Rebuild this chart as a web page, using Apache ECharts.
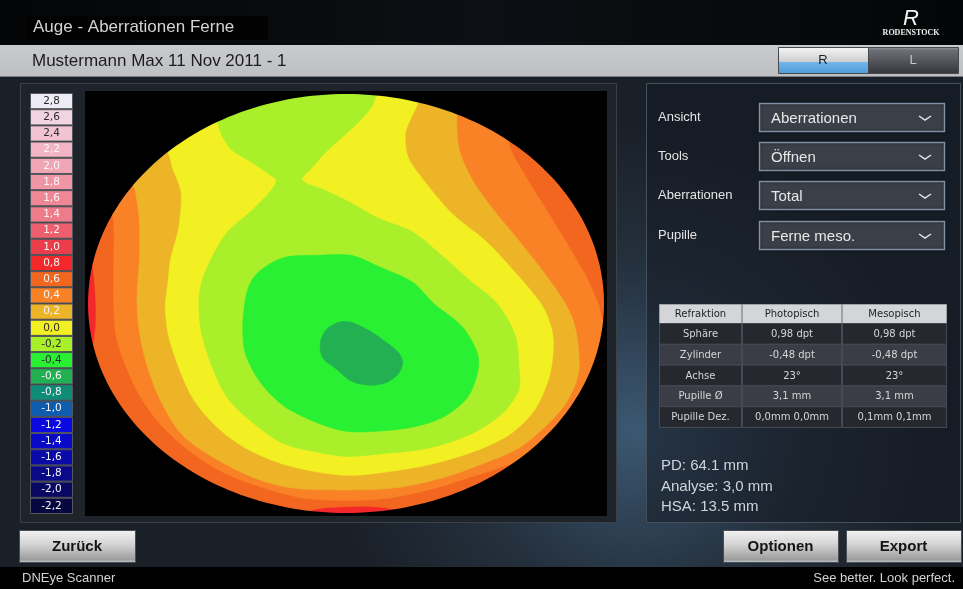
<!DOCTYPE html>
<html>
<head>
<meta charset="utf-8">
<title>Auge - Aberrationen Ferne</title>
<script src="https://cdn.jsdelivr.net/npm/echarts@6.0.0/dist/echarts.min.js"></script>
<style>
html,body{margin:0;padding:0;background:#000;overflow:hidden}
#chart{width:963px;height:589px}
</style>
</head>
<body>
<div id="chart"></div>
<script>
// Aberration scale (dpt), top to bottom of the legend
const scaleSteps = [2.8, 2.6, 2.4, 2.2, 2.0, 1.8, 1.6, 1.4, 1.2, 1.0, 0.8, 0.6, 0.4,
                    0.2, 0.0, -0.2, -0.4, -0.6, -0.8, -1.0, -1.2, -1.4, -1.6, -1.8, -2.0, -2.2];
const scaleLabels = ['2,8', '2,6', '2,4', '2,2', '2,0', '1,8', '1,6', '1,4', '1,2', '1,0', '0,8', '0,6', '0,4',
                     '0,2', '0,0', '-0,2', '-0,4', '-0,6', '-0,8', '-1,0', '-1,2', '-1,4', '-1,6', '-1,8', '-2,0', '-2,2'];

// Iso-lines of the aberration map in pupil coordinates (-100..100 on both axes, y up).
// Each ring encloses the area at or below its level; where a band reaches the pupil edge
// the ring runs outside the pupil.
const iso07 = [[-115, 112], [115, 112], [115, -112], [25, -112], [22, -100], [11, -97], [0, -97], [-11, -98],
               [-17, -101], [-20, -112], [-115, -112], [-115, -35], [-100, -30], [-98, -20], [-97, -10],
               [-97, 2], [-98, 16], [-100, 28], [-115, 32]];
const iso05 = [[-91, 42], [-90, 35], [-90, 22], [-90, -1], [-89, -16], [-85, -31], [-79, -46], [-71, -59],
               [-60, -71], [-47, -81], [-32, -88], [-16, -93], [0, -94], [16, -93], [32, -89], [48, -83],
               [56, -80], [64, -77], [80, -82], [115, -25], [115, -6], [100, -8], [98, -1], [93, 13],
               [85, 30], [77, 46], [69, 62], [63, 78], [70, 95], [0, 125], [-85, 100], [-110, 45]];
const iso03 = [[-83, 57], [-81, 49], [-80, 38], [-80, 22], [-81, 2], [-80, -14], [-77, -30], [-72, -46],
               [-64, -62], [-52, -73], [-36, -83], [-21, -88], [0, -89], [19, -88], [38, -83], [54, -76],
               [67, -69], [77, -59], [85, -48], [90, -34], [90, -20], [88, -8], [84, 2], [76, 16], [67, 30],
               [57, 45], [49, 59], [44, 73], [43, 89], [46, 108], [-30, 125], [-95, 75], [-92, 60]];
const iso01 = [[-69, 72], [-78, 88], [-72, 120], [25, 120], [30, 108], [28, 96], [25, 88], [23, 81], [24, 70],
               [30, 59], [41, 43], [54, 30], [64, 17], [76, -1], [80, -14], [80, -27], [78, -38], [73, -51],
               [64, -62], [51, -70], [32, -77], [12, -81], [0, -82], [-13, -80], [-26, -76], [-39, -69],
               [-50, -59], [-59, -46], [-65, -30], [-69, -14], [-70, -1], [-69, 10], [-68, 21], [-65, 35],
               [-64, 45], [-64, 54], [-67, 64]];
const isoM01 = [[-57, -1], [-56, 10], [-52, 22], [-46, 34], [-36, 45], [-29, 54], [-27, 59], [-29, 61],
                [-36, 67], [-44, 73], [-48, 80], [-50, 87], [-55, 105], [-45, 118], [15, 118], [15, 106],
                [12, 100], [10, 94], [6, 88], [0, 81], [-8, 72], [-13, 65], [-17, 59], [-8, 54], [2, 48],
                [12, 41], [26, 34], [38, 22], [49, 10], [57, 2], [62, -6], [66, -17], [67, -30], [67, -41],
                [61, -52], [49, -62], [32, -69], [12, -72], [0, -73], [-11, -71], [-24, -67], [-36, -57],
                [-46, -45], [-52, -30], [-56, -14]];
const isoM03 = [[-39, 2], [-37, 10], [-33, 16], [-24, 22], [-11, 23], [2, 23], [12, 18], [26, 10], [34, 0],
                [45, -11], [51, -24], [51, -33], [47, -45], [38, -54], [26, -59], [12, -61], [0, -61],
                [-11, -57], [-24, -49], [-33, -38], [-39, -24], [-40, -11]];
const isoM05 = [[-10, -19], [-8, -13], [-3, -9], [2, -9], [9, -13], [15, -18], [20, -23], [22, -28],
                [20, -34], [15, -38], [9, -39], [2, -37], [-4, -31], [-9, -26]];

// Scale step that fills the pupil, and the step that fills each ring
const pupilStep = 0.8;
const isoRings = [iso07, iso05, iso03, iso01, isoM01, isoM03, isoM05];
const ringSteps = [0.6, 0.4, 0.2, 0.0, -0.2, -0.4, -0.6];

// Refraction table and measurement notes
const tableHead = ['Refraktion', 'Photopisch', 'Mesopisch'];
const tableRows = [
  ['Sphäre', '0,98 dpt', '0,98 dpt'],
  ['Zylinder', '-0,48 dpt', '-0,48 dpt'],
  ['Achse', '23°', '23°'],
  ['Pupille Ø', '3,1 mm', '3,1 mm'],
  ['Pupille Dez.', '0,0mm 0,0mm', '0,1mm 0,1mm']
];
const selectors = [['Ansicht', 'Aberrationen'], ['Tools', 'Öffnen'], ['Aberrationen', 'Total'], ['Pupille', 'Ferne meso.']];
const notes = ['PD: 64.1 mm', 'Analyse: 3,0 mm', 'HSA: 13.5 mm'];

// ---- styling ----
const scaleColors = ['#ecebf6', '#f2d4e1', '#f2c4d3', '#f3b5c5', '#f1a6b5', '#f095a3', '#ee8796', '#ee7b89',
                     '#ee5f6d', '#ec3d4b', '#f4282a', '#f2661f', '#f98226', '#edb428', '#f2f023', '#aaf02a',
                     '#2af033', '#22b052', '#0e8c78', '#0d5cad', '#0a0ae0', '#0909c8', '#0a0aa8', '#0a0a88',
                     '#080862', '#060640'];
const darkLabelSteps = [2.8, 2.6, 2.4, 0.0, -0.2, -0.4];
const colorOf = v => scaleColors[scaleSteps.findIndex(s => Math.abs(s - v) < 1e-9)];

const SANS = '"Liberation Sans", Arial, sans-serif';
const VERD = '"DejaVu Sans", Verdana, sans-serif';

const g = [];
function box(x, y, w, h, style, z) {
  g.push({ type: 'rect', silent: true, z: z || 0, shape: { x, y, width: w, height: h }, style });
}
function label(x, y, str, font, fill, align, z) {
  g.push({ type: 'text', silent: true, z: z || 10, x, y,
    style: { text: str, font, fill, align: align || 'left', verticalAlign: 'middle',
             textAlign: align || 'left', textVerticalAlign: 'middle' } });
}
const vgrad = stops => ({ type: 'linear', x: 0, y: 0, x2: 0, y2: 1,
  colorStops: stops.map(s => ({ offset: s[0], color: s[1] })) });

// window background with a soft blue glow
box(0, 77, 963, 490, { fill: { type: 'radial', x: 0.66, y: 0.72, r: 0.62,
  colorStops: [{ offset: 0, color: '#3c5872' }, { offset: 0.55, color: '#24303d' }, { offset: 1, color: '#1a2028' }] } });

// header
box(0, 0, 963, 45, { fill: { type: 'linear', x: 0, y: 0, x2: 1, y2: 0,
  colorStops: [{ offset: 0, color: '#040506' }, { offset: 0.5, color: '#0c1014' }, { offset: 1, color: '#040506' }] } });
box(27, 16, 241, 24, { fill: '#020202' }, 1);
label(33, 27, 'Auge - Aberrationen Ferne', '17px ' + SANS, '#d4d4d4');
label(911, 19, 'R', 'italic 22px ' + SANS, '#f2f2f2', 'center');
label(911, 33, 'RODENSTOCK', 'bold 8px "Liberation Serif", "DejaVu Serif", serif', '#f2f2f2', 'center');

// patient bar with eye switch
box(0, 45, 963, 32, { fill: vgrad([[0, '#c9cacd'], [1, '#bebfc2']]) });
box(0, 76, 963, 1, { fill: '#7d8086' }, 1);
label(32, 61, 'Mustermann Max 11 Nov 2011 - 1', '17px ' + SANS, '#1c1c1c');
box(778.5, 47.5, 90, 26, { fill: vgrad([[0, '#f6f6f6'], [0.55, '#cdced1'], [0.56, '#72b6ea'], [1, '#4c9bd8']]),
  stroke: '#45484d', lineWidth: 1 }, 1);
box(868.5, 47.5, 90, 26, { fill: vgrad([[0, '#9a9ca1'], [0.12, '#6c6f75'], [1, '#34363b']]),
  stroke: '#45484d', lineWidth: 1 }, 1);
label(823, 60, 'R', '13px ' + SANS, '#202020', 'center');
label(913, 60, 'L', '13px ' + SANS, '#c8c8c8', 'center');

// map panel
box(20.5, 83.5, 596, 439, { fill: '#1f242b', stroke: '#3b4149', lineWidth: 1 }, 1);
box(86, 92, 520, 423, { fill: '#000' }, 2);

// settings panel
box(646.5, 83.5, 314, 439, { fill: 'rgba(20,26,34,0.55)', stroke: '#46505c', lineWidth: 1 }, 1);
const selTop = [103, 142, 181, 221];
selectors.forEach((s, i) => {
  const y = selTop[i], cy = y + 14.5;
  label(658, cy - 0.5, s[0], '13px ' + SANS, '#e4e4e4');
  box(759.5, y + 0.5, 185, 28, { fill: '#3a3f48', stroke: '#8090a4', lineWidth: 1.5, shadowBlur: 3, shadowColor: 'rgba(0,0,0,0.5)' }, 2);
  label(771, cy + 1, s[1], '15px ' + SANS, '#e8e8e8');
  g.push({ type: 'polyline', silent: true, z: 11,
    shape: { points: [[919, cy - 1.5], [925, cy + 2.5], [931, cy - 1.5]] },
    style: { stroke: '#e6e6e6', lineWidth: 1.5, fill: null } });
});

// refraction table
const colX = [659, 742, 842, 947];
const headTop = 304, headH = 19, rowH = 20.8;
for (let c = 0; c < 3; c++) {
  box(colX[c] + 0.5, headTop + 0.5, colX[c + 1] - colX[c] - 1, headH, { fill: '#d3d5d8', stroke: '#9ea1a6', lineWidth: 1 }, 2);
  label((colX[c] + colX[c + 1]) / 2, headTop + headH / 2 + 1, tableHead[c], '10px ' + VERD, '#1e1e1e', 'center');
}
tableRows.forEach((row, r) => {
  const y = headTop + headH + r * rowH;
  for (let c = 0; c < 3; c++) {
    box(colX[c] + 0.5, y + 0.5, colX[c + 1] - colX[c] - 1, rowH, { fill: r % 2 ? '#3a3d45' : '#25282e', stroke: '#464a52', lineWidth: 1 }, 2);
    label((colX[c] + colX[c + 1]) / 2, y + rowH / 2 + 1, row[c], '10px ' + VERD, '#d6d6d6', 'center');
  }
});

notes.forEach((t, i) => label(661, 466 + i * 20.5, t, '15px ' + SANS, '#cfd4da'));

// buttons
const buttons = [['Zurück', 19, 116], ['Optionen', 723, 115], ['Export', 846, 115]];
buttons.forEach(b => {
  box(b[1] + 0.5, 530.5, b[2], 32, { fill: vgrad([[0, '#f3f3f3'], [0.45, '#d2d2d2'], [0.9, '#9c9c9c'], [1, '#c9d2dc']]),
    stroke: '#4a4d52', lineWidth: 1 }, 2);
  label(b[1] + b[2] / 2, 547, b[0], 'bold 15px ' + SANS, '#141414', 'center');
});

// status line
box(0, 567, 963, 22, { fill: '#000' }, 3);
label(22, 578, 'DNEye Scanner', '13px ' + SANS, '#d2d2d2');
label(955, 578, 'See better. Look perfect.', '13px ' + SANS, '#d2d2d2', 'right');

// ---- series ----
const bandSeries = isoRings.map((ring, i) => ({
  type: 'custom', xAxisIndex: 0, yAxisIndex: 0, clip: true, silent: true, z: 30 + i,
  data: [[0, 0]],
  renderItem: (params, api) => ({
    type: 'polygon',
    shape: { points: ring.map(p => api.coord(p)), smooth: 0.3 },
    style: { fill: colorOf(ringSteps[i]), stroke: colorOf(ringSteps[i]), lineWidth: 0.6 }
  })
}));

// black surround outside the round pupil (rectangle with the pupil cut out)
const pupilMask = {
  type: 'custom', xAxisIndex: 0, yAxisIndex: 0, silent: true, z: 50,
  data: [[0, 0]],
  renderItem: (params, api) => {
    const tl = api.coord([-100, 100]);
    const br = api.coord([100, -100]);
    const x0 = tl[0] - 3, y0 = tl[1] - 3, x1 = br[0] + 3, y1 = br[1] + 3;
    let d = 'M' + x0 + ' ' + y0 + 'H' + x1 + 'V' + y1 + 'H' + x0 + 'Z';
    const n = 240;
    for (let k = 0; k <= n; k++) {
      const t = 2 * Math.PI * k / n;
      const p = api.coord([100 * Math.cos(t), 100 * Math.sin(t)]);
      d += (k === 0 ? 'M' : 'L') + p[0].toFixed(2) + ' ' + p[1].toFixed(2);
    }
    d += 'Z';
    return { type: 'path', shape: { pathData: d }, style: { fill: '#000' } };
  }
};

const scaleSeries = {
  type: 'bar', xAxisIndex: 1, yAxisIndex: 1, barWidth: '100%', silent: true, z: 30,
  data: scaleSteps.map((s, i) => ({
    value: 1,
    itemStyle: { color: scaleColors[i] },
    label: { color: darkLabelSteps.includes(s) ? '#2a2a2a' : '#f6f6f6' }
  })),
  itemStyle: { borderColor: '#54575d', borderWidth: 1 },
  label: { show: true, position: 'inside', formatter: p => scaleLabels[p.dataIndex],
           fontFamily: 'DejaVu Sans', fontSize: 10.5 }
};

const chart = echarts.init(document.getElementById('chart'), null, { renderer: 'canvas' });
chart.setOption({
  animation: false,
  backgroundColor: '#1a2028',
  graphic: { elements: g },
  grid: [
    { left: 88, top: 94, width: 516, height: 419, show: true, z: 20, backgroundColor: colorOf(pupilStep), borderWidth: 0 },
    { left: 30, top: 93, width: 43, height: 421, show: false }
  ],
  xAxis: [
    { gridIndex: 0, type: 'value', min: -100, max: 100, show: false },
    { gridIndex: 1, type: 'value', min: 0, max: 1, show: false }
  ],
  yAxis: [
    { gridIndex: 0, type: 'value', min: -100, max: 100, show: false },
    { gridIndex: 1, type: 'category', data: scaleLabels, inverse: true, show: false }
  ],
  series: bandSeries.concat([pupilMask, scaleSeries])
});
</script>
</body>
</html>
